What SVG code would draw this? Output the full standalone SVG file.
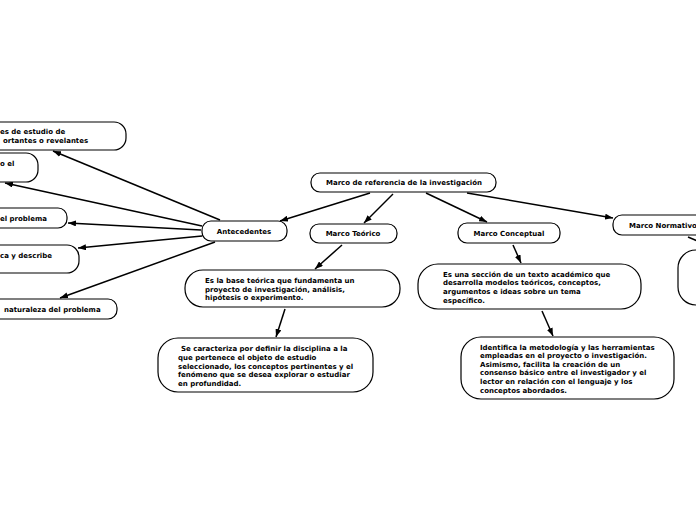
<svg xmlns="http://www.w3.org/2000/svg" width="696" height="520" viewBox="0 0 696 520">
<defs>
<marker id="ah" markerWidth="8" markerHeight="6" refX="8" refY="3" orient="auto" markerUnits="userSpaceOnUse">
<path d="M0,0 L8,3 L0,6 z" fill="#000"/>
</marker>
<style>
.b{fill:#fff;stroke:#000;stroke-width:1.2}
.t{font-family:"DejaVu Sans",Verdana,sans-serif;font-weight:bold;font-size:7px;fill:#000}
.c{text-anchor:middle}
.l{stroke:#000;stroke-width:1.5;fill:none;marker-end:url(#ah)}
</style>
</defs>
<rect width="696" height="520" fill="#fff"/>
<g id="connectors">
<line class="l" x1="370" y1="193" x2="280" y2="221"/>
<line class="l" x1="393" y1="194" x2="364" y2="223"/>
<line class="l" x1="426" y1="193" x2="487" y2="222"/>
<line class="l" x1="467" y1="193" x2="613" y2="218"/>
<line class="l" x1="342" y1="245" x2="315" y2="269"/>
<line class="l" x1="285" y1="309" x2="276" y2="337"/>
<line class="l" x1="513" y1="245" x2="521" y2="263"/>
<line class="l" x1="542" y1="311" x2="553" y2="336"/>
<line class="l" x1="220" y1="220" x2="53" y2="151"/>
<line class="l" x1="202" y1="226" x2="5" y2="183"/>
<line class="l" x1="201" y1="230" x2="68" y2="223"/>
<line class="l" x1="202" y1="236" x2="78" y2="248"/>
<line class="l" x1="215" y1="242" x2="60" y2="298"/>
<line x1="688" y1="237" x2="700" y2="242" stroke="#000" stroke-width="1.5"/>
</g>
<g id="root">
<rect class="b" x="311" y="173" width="185" height="19" rx="9"/>
<text class="t c" x="404" y="185">Marco de referencia de la investigación</text>
</g>
<g id="marco-teorico">
<rect class="b" x="310" y="224" width="87" height="19" rx="9"/>
<text class="t c" x="353" y="236">Marco Teórico</text>
</g>
<g id="marco-conceptual">
<rect class="b" x="458" y="223" width="102" height="20" rx="9"/>
<text class="t c" x="509" y="236">Marco Conceptual</text>
</g>
<g id="marco-normativo">
<rect class="b" x="613" y="215" width="120" height="20" rx="9"/>
<text class="t" x="629" y="228">Marco Normativo</text>
</g>
<g id="normativo-child">
<rect class="b" x="678" y="250" width="80" height="55" rx="18"/>
</g>
<g id="antecedentes">
<rect class="b" x="202" y="221" width="85" height="20" rx="9"/>
<text class="t c" x="244" y="234">Antecedentes</text>
</g>
<g id="ant-1">
<rect class="b" x="-80" y="122" width="206" height="28" rx="12"/>
<text class="t" x="0" y="134">es de estudio de</text>
<text class="t" x="3" y="143">ortantes o revelantes</text>
</g>
<g id="ant-2">
<rect class="b" x="-80" y="153" width="118" height="29" rx="12"/>
<text class="t" x="0" y="166">o el</text>
</g>
<g id="ant-3">
<rect class="b" x="-80" y="208" width="147" height="20" rx="9"/>
<text class="t" x="0" y="221">el problema</text>
</g>
<g id="ant-4">
<rect class="b" x="-80" y="245" width="159" height="28" rx="12"/>
<text class="t" x="0" y="258">ca y describe</text>
</g>
<g id="ant-5">
<rect class="b" x="-80" y="299" width="197" height="20" rx="9"/>
<text class="t" x="4" y="312">naturaleza del problema</text>
</g>
<g id="teorico-def">
<rect class="b" x="185" y="270" width="215" height="37" rx="18"/>
<text class="t" x="205" y="283">Es la base teórica que fundamenta un</text>
<text class="t" x="205" y="291.5">proyecto de investigación, análisis,</text>
<text class="t" x="205" y="300">hipótesis o experimento.</text>
</g>
<g id="teorico-detail">
<rect class="b" x="158" y="338" width="215" height="54" rx="20"/>
<text class="t" x="181" y="351">Se caracteriza por definir la disciplina a la</text>
<text class="t" x="178" y="359.5">que pertenece el objeto de estudio</text>
<text class="t" x="178" y="368.5">seleccionado, los conceptos pertinentes y el</text>
<text class="t" x="178" y="377">fenómeno que se desea explorar o estudiar</text>
<text class="t" x="178" y="385.5">en profundidad.</text>
</g>
<g id="conceptual-def">
<rect class="b" x="418" y="264" width="223" height="45" rx="20"/>
<text class="t" x="443" y="276.5">Es una sección de un texto académico que</text>
<text class="t" x="443" y="285">desarrolla modelos teóricos, conceptos,</text>
<text class="t" x="443" y="294">argumentos e ideas sobre un tema</text>
<text class="t" x="443" y="302.5">específico.</text>
</g>
<g id="conceptual-detail">
<rect class="b" x="461" y="337" width="213" height="62" rx="20"/>
<text class="t" x="480" y="349.5">Identifica la metodología y las herramientas</text>
<text class="t" x="480" y="358">empleadas en el proyecto o investigación.</text>
<text class="t" x="480" y="366.5">Asimismo, facilita la creación de un</text>
<text class="t" x="480" y="375">consenso básico entre el investigador y el</text>
<text class="t" x="480" y="384">lector en relación con el lenguaje y los</text>
<text class="t" x="480" y="392.5">conceptos abordados.</text>
</g>
</svg>
